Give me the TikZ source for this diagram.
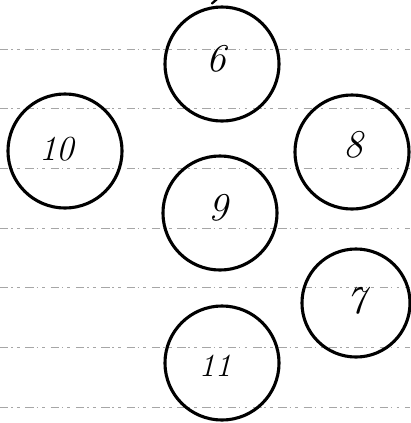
\documentclass[tikz,border=0pt]{standalone}
\usepackage{tikz}
\usetikzlibrary{positioning}
\tikzset{
  ring/.style={circle,draw=black,line width=2.2pt,inner sep=0pt,minimum size=#1},
  ring/.default=2.85cm,
  num/.style={font=\fontsize{28}{28}\selectfont\itshape,inner sep=0pt},
  rule/.style={black!35,line width=0.6pt,dash pattern=on 6pt off 2pt on 1pt off 3pt on 2pt off 4pt},
}
\begin{document}
\begin{tikzpicture}[x=0.025cm,y=-0.025cm]
  \useasboundingbox[fill=white] (0,0) rectangle (410,423);
  % ruled paper lines
  \foreach \yy in {49,108,168,228,287,347,407}{
    \draw[rule] (0,\yy) -- (410,\yy);}
  % circles
  \node[ring](c6) at (222,64){};
  \node[ring](c10) at (65,151){};
  \node[ring](c8) at (352,152){};
  \node[ring](c9) at (220,213){};
  \node[ring=2.7cm](c7) at (356,303){};
  \node[ring](c11) at (222,363){};
  % numbers
  \node[num](n6) at (216,59){6};
  \node[num,font=\fontsize{25}{25}\selectfont\itshape](n10) at (57,149){10};
  \node[num](n8) at (353,145){8};
  \node[num](n9) at (218,208){9};
  \node[num](n7) at (356,301){7};
  \node[num,font=\fontsize{23}{23}\selectfont\itshape](n11) at (215,366){11};
  % stray mark above 6
  \draw[line width=1.6pt,line cap=round] (c6.north) ++(-10,-2) -- ++(7,-6);
\end{tikzpicture}
\end{document}
